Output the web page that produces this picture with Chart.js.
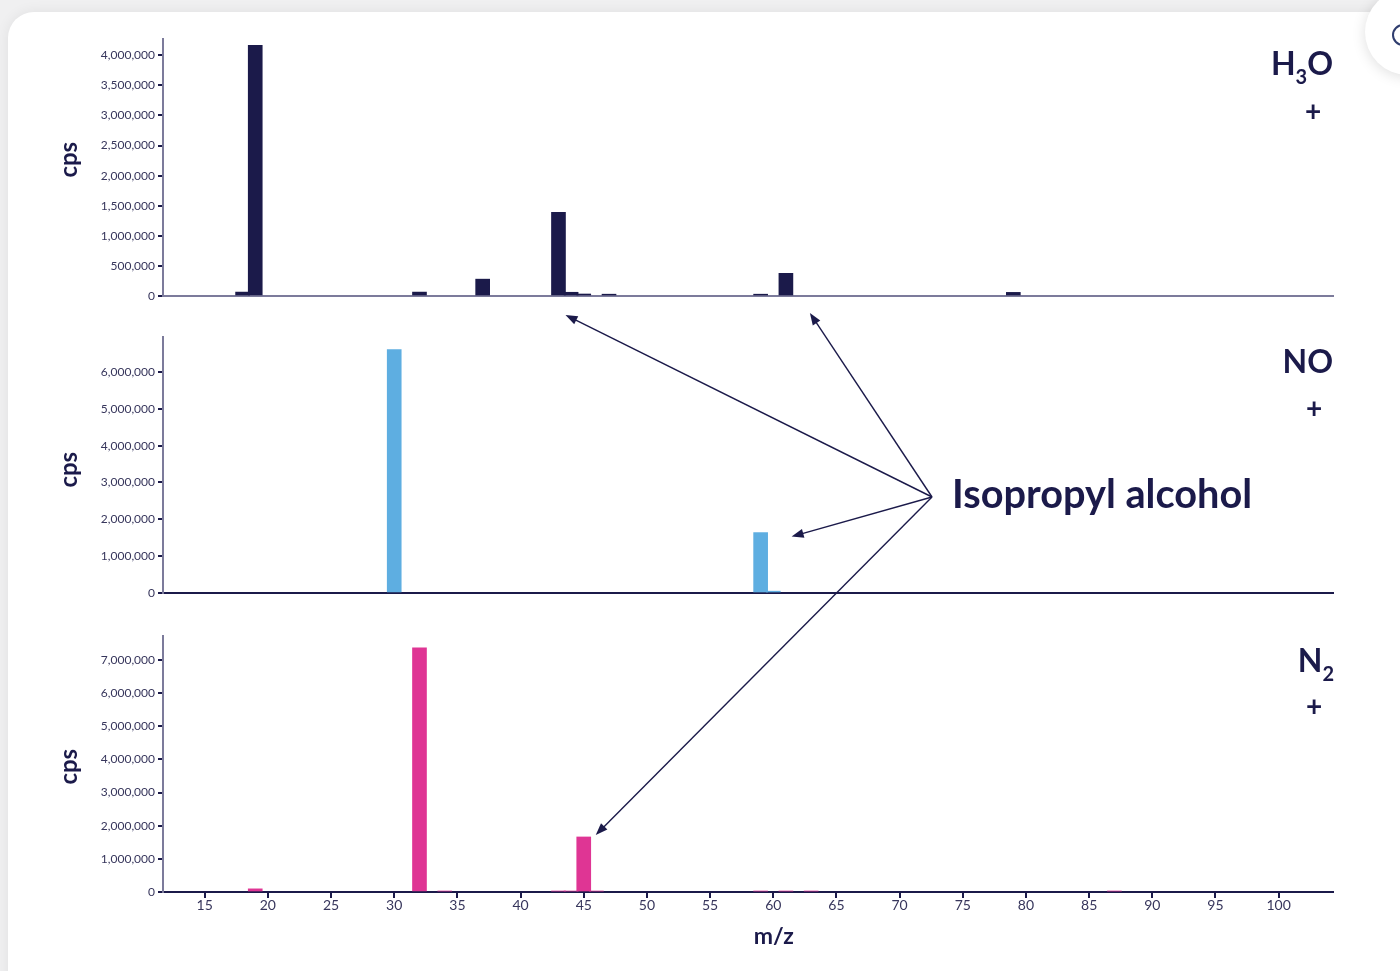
<!DOCTYPE html>
<html>
<head>
<meta charset="utf-8">
<script src="https://cdn.jsdelivr.net/npm/chart.js@4.4.1/dist/chart.umd.min.js"></script>
<style>
  html, body { margin: 0; padding: 0; width: 1400px; height: 971px; overflow: hidden; background: #f0f0f1; }
  #card { position: absolute; left: 8px; top: 12px; width: 1430px; height: 1000px; background: #fff;
          border-radius: 26px; box-shadow: 0 0 14px rgba(0,0,0,0.07); }
  #fab { position: absolute; left: 1365px; top: -11px; width: 86px; height: 86px; border-radius: 50%;
         background: #fff; box-shadow: 0 2px 14px rgba(0,0,0,0.13); }
  #fab::after { content: ""; position: absolute; left: 27px; top: 35px; width: 22px; height: 22px;
                box-sizing: border-box; border: 2px solid #2f3d6e; border-radius: 50%; }
  canvas { position: absolute; left: 0; }
  #overlay { top: 0; pointer-events: none; }
</style>
</head>
<body>
<div id="card"></div>
<div id="fab"></div>
<canvas id="pH3O" width="1400" height="312" style="top:0px"></canvas>
<canvas id="pNO" width="1400" height="300" style="top:312px"></canvas>
<canvas id="pN2" width="1400" height="359" style="top:612px"></canvas>
<canvas id="overlay" width="1400" height="971"></canvas>
<script>
// m/z peaks and count rates (cps) for each reagent ion
const h3oMass = [18, 19, 32, 37, 43, 44, 45, 47, 59, 61, 79];
const h3oCps  = [65000, 4166000, 65000, 280000, 1390000, 62000, 33000, 30000, 30000, 377000, 60000];

const noMass = [30, 59, 60];
const noCps  = [6606000, 1640000, 50000];

const n2Mass = [19, 32, 34, 43, 44, 45, 46, 59, 61, 63, 87];
const n2Cps  = [95000, 7360000, 28000, 28000, 28000, 1660000, 28000, 28000, 28000, 28000, 28000];

// axis ticks and ranges
const mzTicks   = [15, 20, 25, 30, 35, 40, 45, 50, 55, 60, 65, 70, 75, 80, 85, 90, 95, 100];
const mzRange   = [11.7, 104.3];
const h3oTicks  = [0, 500000, 1000000, 1500000, 2000000, 2500000, 3000000, 3500000, 4000000];
const noTicks   = [0, 1000000, 2000000, 3000000, 4000000, 5000000, 6000000];
const n2Ticks   = [0, 1000000, 2000000, 3000000, 4000000, 5000000, 6000000, 7000000];
const yMaxima   = [4270000, 6950000, 7720000];

// peaks attributed to isopropyl alcohol: [panel, m/z, cps]
const ipaPanel = [0, 0, 1, 2];
const ipaMass  = [43, 61, 59, 45];
const ipaCps   = [0, 0, 1640000, 1660000];

const NAVY = '#1b1a4a';
const TICK_TEXT = '#37365c';
const AXIS_GREY = '#7c7b9b';
const FONT = 'Lato, "Open Sans", sans-serif';

function makePanel(id, mass, cps, ticks, yMax, color, cfg) {
  const ctx = document.getElementById(id);
  return new Chart(ctx, {
    type: 'bar',
    data: {
      datasets: [{
        data: mass.map((m, i) => ({ x: m, y: cps[i] })),
        backgroundColor: color,
        borderWidth: 0,
        barThickness: 14
      }]
    },
    options: {
      responsive: false,
      animation: false,
      events: [],
      layout: { padding: { top: cfg.top, right: 67, left: 0, bottom: 0 } },
      plugins: { legend: { display: false }, tooltip: { enabled: false } },
      scales: {
        x: {
          type: 'linear',
          min: mzRange[0], max: mzRange[1],
          offset: false,
          afterBuildTicks: s => { s.ticks = mzTicks.map(v => ({ value: v })); },
          afterFit: s => { s.height = cfg.bottom; },
          border: { display: true, color: cfg.baseColor, width: 2 },
          grid: { display: cfg.showX, drawOnChartArea: false, drawTicks: true, tickLength: 6,
                  color: NAVY, lineWidth: 2, offset: false },
          ticks: { display: cfg.showX, color: TICK_TEXT, font: { family: FONT, size: 14 },
                   padding: -1, maxRotation: 0, autoSkip: false, callback: v => String(v) }
        },
        y: {
          min: 0, max: yMax,
          afterBuildTicks: s => { s.ticks = ticks.map(v => ({ value: v })); },
          afterFit: s => { s.width = 163; },
          border: { display: true, color: AXIS_GREY, width: 2 },
          grid: { display: true, drawOnChartArea: false, drawTicks: true, tickLength: 5,
                  color: NAVY, lineWidth: 2 },
          ticks: { color: TICK_TEXT, font: { family: FONT, size: 12 }, padding: 3,
                   callback: v => Number(v).toLocaleString('en-US') }
        }
      }
    }
  });
}

const charts = [
  makePanel('pH3O', h3oMass, h3oCps, h3oTicks, yMaxima[0], NAVY,
            { top: 39, bottom: 16, showX: false, baseColor: AXIS_GREY }),
  makePanel('pNO', noMass, noCps, noTicks, yMaxima[1], '#5eaee1',
            { top: 25, bottom: 19, showX: false, baseColor: NAVY }),
  makePanel('pN2', n2Mass, n2Cps, n2Ticks, yMaxima[2], '#df3594',
            { top: 24, bottom: 79, showX: true, baseColor: NAVY })
];
const panelTop = [0, 312, 612];

// ---- overlay: axis titles, ion labels, annotation arrows ----
const ov = document.getElementById('overlay').getContext('2d');
ov.fillStyle = NAVY;
ov.strokeStyle = NAVY;

function inkCentered(text, font, cx, cy) {
  ov.font = font;
  const m = ov.measureText(text);
  const w = m.actualBoundingBoxRight + m.actualBoundingBoxLeft;
  const h = m.actualBoundingBoxAscent + m.actualBoundingBoxDescent;
  ov.textAlign = 'left';
  ov.textBaseline = 'alphabetic';
  ov.fillText(text, cx - w / 2 + m.actualBoundingBoxLeft, cy - h / 2 + m.actualBoundingBoxAscent);
}

// y axis titles
charts.forEach((c, i) => {
  const cy = [160, 470, 767][i];
  ov.save();
  ov.translate(72, cy);
  ov.rotate(-Math.PI / 2);
  inkCentered('cps', 'bold 24px ' + FONT, 0, 0);
  ov.restore();
});
// x axis title
inkCentered('m/z', 'bold 23px ' + FONT, 774, 936);

// ion labels with subscripts, right aligned
function ionLabel(parts, right, baseline) {
  let widths = parts.map(p => { ov.font = p.font; return ov.measureText(p.t).width; });
  let x = right - widths.reduce((a, b) => a + b, 0);
  parts.forEach((p, i) => {
    ov.font = p.font;
    ov.textAlign = 'left';
    ov.textBaseline = 'alphabetic';
    ov.fillText(p.t, x, baseline + (p.sub ? 9 : 0));
    x += widths[i];
  });
}
const big = 'bold 32px ' + FONT, small = 'bold 20px ' + FONT;
ionLabel([{ t: 'H', font: big }, { t: '3', font: small, sub: true }, { t: 'O', font: big }], 1333, 75);
inkCentered('+', 'bold 28px ' + FONT, 1313, 111);
ionLabel([{ t: 'NO', font: big }], 1333, 373);
inkCentered('+', 'bold 28px ' + FONT, 1314, 408);
ionLabel([{ t: 'N', font: big }, { t: '2', font: small, sub: true }], 1334, 672);
inkCentered('+', 'bold 28px ' + FONT, 1314, 706);

// annotation label, sized to its box width
(function () {
  const text = 'Isopropyl alcohol';
  ov.font = 'bold 100px ' + FONT;
  const size = 100 * 300 / ov.measureText(text).width;
  ov.font = 'bold ' + size.toFixed(1) + 'px ' + FONT;
  ov.textAlign = 'left';
  ov.textBaseline = 'alphabetic';
  ov.fillText(text, 952, 508);
})();

// arrows from the label to the isopropyl alcohol peaks
const origin = [932, 497];
const tipOffset = [[7, 19], [24, 17], [31, 4], [12, -2]];
function arrow(x0, y0, x1, y1) {
  const a = Math.atan2(y1 - y0, x1 - x0);
  const L = 12, W = 4.5;
  const bx = x1 - L * Math.cos(a), by = y1 - L * Math.sin(a);
  ov.lineWidth = 1.4;
  ov.beginPath(); ov.moveTo(x0, y0); ov.lineTo(bx + 1 * Math.cos(a), by + 1 * Math.sin(a)); ov.stroke();
  ov.beginPath();
  ov.moveTo(x1, y1);
  ov.lineTo(bx + W * Math.sin(a), by - W * Math.cos(a));
  ov.lineTo(bx - W * Math.sin(a), by + W * Math.cos(a));
  ov.closePath(); ov.fill();
}
ipaMass.forEach((m, i) => {
  const c = charts[ipaPanel[i]];
  const tx = c.scales.x.getPixelForValue(m) + tipOffset[i][0];
  const ty = panelTop[ipaPanel[i]] + c.scales.y.getPixelForValue(ipaCps[i]) + tipOffset[i][1];
  arrow(origin[0], origin[1], tx, ty);
});
</script>
</body>
</html>
